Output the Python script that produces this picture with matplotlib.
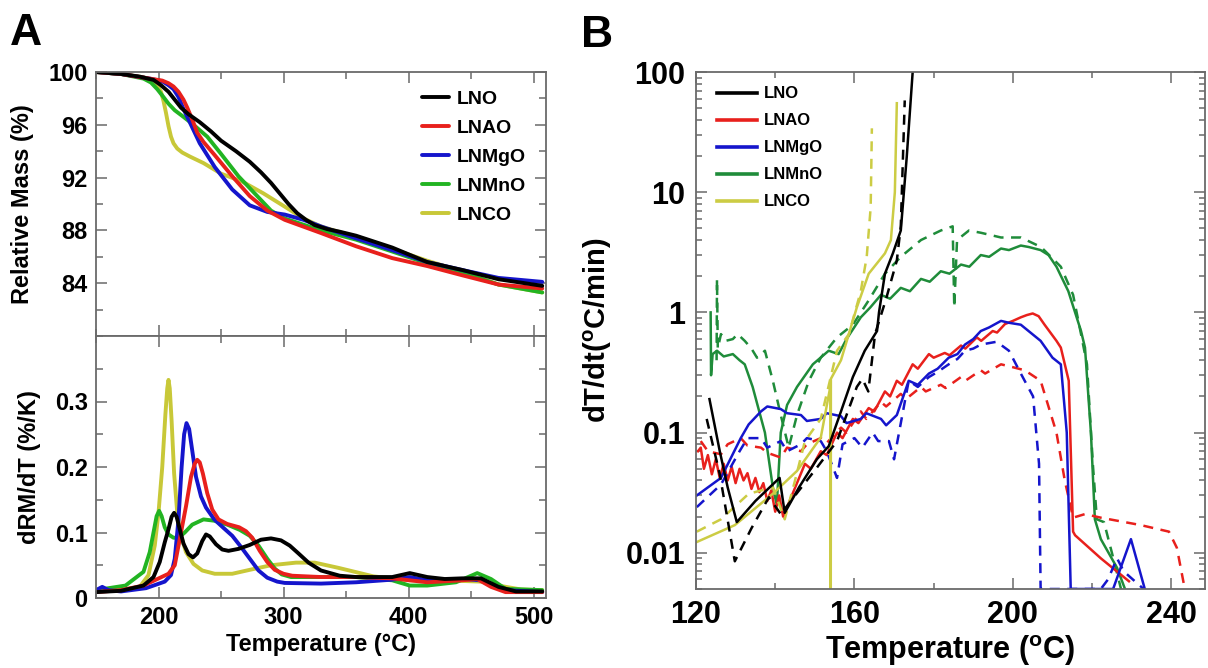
import numpy as np
import matplotlib.pyplot as plt
from matplotlib.ticker import MultipleLocator, LogLocator, NullFormatter, FixedLocator

plt.rcParams['font.family'] = ['Liberation Sans', 'DejaVu Sans']
plt.rcParams['font.weight'] = 'bold'
plt.rcParams['axes.labelweight'] = 'bold'
plt.rcParams['mathtext.fontset'] = 'custom'
plt.rcParams['mathtext.bf'] = 'Liberation Sans:bold'
plt.rcParams['mathtext.rm'] = 'Liberation Sans:bold'

names = ['LNO', 'LNAO', 'LNMgO', 'LNMnO', 'LNCO']
colors_a = ['#000000', '#e8201c', '#1515cc', '#22b422', '#c8c838']
colors_b = ['#000000', '#e8201c', '#1515cc', '#1f8c3a', '#cccc44']

# ---- TGA: relative mass (%) vs temperature ----
tga_lno_T = [150, 170, 185, 196, 202, 208, 213, 218, 224, 233, 242, 250, 262, 273, 282, 290, 297, 304, 311, 318, 325, 335, 345, 358, 387, 415, 443, 472, 507]
tga_lno_m = [100.0, 99.85, 99.65, 99.4, 99.0, 98.5, 97.9, 97.3, 96.8, 96.2, 95.5, 94.8, 94.0, 93.2, 92.4, 91.6, 90.8, 90.0, 89.3, 88.8, 88.4, 88.1, 87.9, 87.6, 86.7, 85.6, 85.0, 84.3, 83.8]
tga_lnao_T = [150, 170, 193, 203, 208, 212, 216, 220, 223, 227, 231, 236, 245, 259, 273, 287, 301, 330, 358, 387, 415, 443, 472, 507]
tga_lnao_m = [100.0, 99.85, 99.5, 99.35, 99.15, 98.9, 98.5, 97.9, 97.3, 96.4, 95.4, 94.7, 93.7, 92.1, 90.6, 89.5, 88.8, 87.8, 86.8, 85.9, 85.3, 84.6, 83.9, 83.6]
tga_lnmgo_T = [150, 170, 193, 203, 208, 212, 216, 220, 225, 233, 245, 259, 273, 287, 301, 316, 330, 358, 387, 415, 443, 472, 507]
tga_lnmgo_m = [100.0, 99.85, 99.5, 99.3, 99.0, 98.7, 98.1, 97.2, 96.2, 94.6, 92.8, 91.1, 89.9, 89.4, 89.2, 88.8, 88.3, 87.4, 86.5, 85.6, 85.0, 84.4, 84.1]
tga_lnmno_T = [150, 170, 188, 194, 199, 204, 208, 213, 220, 228, 239, 250, 264, 279, 290, 301, 330, 358, 387, 415, 443, 472, 507]
tga_lnmno_m = [100.0, 99.85, 99.5, 99.2, 98.7, 98.1, 97.6, 97.1, 96.6, 96.0, 95.1, 93.8, 92.1, 90.6, 89.5, 88.9, 88.0, 87.3, 86.4, 85.5, 84.8, 83.9, 83.3]
tga_lnco_T = [150, 170, 188, 195, 199, 202, 204, 206, 208, 210, 212, 215, 219, 225, 236, 250, 267, 284, 301, 316, 330, 358, 387, 415, 443, 472, 507]
tga_lnco_m = [100.0, 99.85, 99.6, 99.35, 99.0, 98.5, 97.8, 96.9, 95.9, 95.1, 94.6, 94.2, 93.9, 93.6, 93.1, 92.3, 91.7, 90.8, 89.8, 88.9, 88.3, 87.5, 86.6, 85.7, 84.9, 83.9, 83.3]

# ---- DTG: dRM/dT (%/K) vs temperature ----
dtg_lno_T = [150, 170, 188, 196, 201, 205, 208, 210.5, 212.5, 214.5, 217, 220, 224, 227.6, 231, 235, 238, 241, 246, 251, 256, 264, 273, 282, 290,
             298, 305, 312, 320, 330, 345, 358, 387, 401, 415, 429, 443, 458, 472, 486, 507]
dtg_lno_v = [0.009, 0.011, 0.019, 0.032, 0.055, 0.085, 0.105, 0.124, 0.13, 0.124, 0.105, 0.083, 0.067, 0.062, 0.068, 0.087, 0.097, 0.094, 0.082, 0.074, 0.072, 0.075, 0.081, 0.089, 0.091,
             0.088, 0.08, 0.068, 0.054, 0.042, 0.034, 0.032, 0.032, 0.038, 0.032, 0.029, 0.03, 0.03, 0.017, 0.01, 0.01]
dtg_lnao_T = [150, 170, 188, 208, 213, 217, 222, 226, 229, 231, 233, 235.5, 239, 243, 248, 255, 264.5, 270, 275, 281, 287, 293, 300, 307,
              330, 358, 387, 415, 443, 455, 466, 477.6, 507]
dtg_lnao_v = [0.009, 0.012, 0.019, 0.037, 0.05, 0.09, 0.14, 0.185, 0.205, 0.211, 0.207, 0.19, 0.16, 0.135, 0.12, 0.113, 0.108, 0.102, 0.092, 0.072, 0.055, 0.043, 0.037, 0.034,
              0.032, 0.032, 0.03, 0.024, 0.027, 0.029, 0.017, 0.009, 0.009]
dtg_lnmgo_T = [150, 155, 160, 170, 190, 205, 210, 213, 216, 218.5, 220.5, 222.4, 224.5, 227, 230, 234, 238, 244.6, 252, 259, 266, 273, 280, 287,
               295, 301, 330, 358, 387, 401, 415, 443, 458, 477, 507]
dtg_lnmgo_v = [0.012, 0.017, 0.012, 0.01, 0.015, 0.025, 0.035, 0.06, 0.12, 0.2, 0.25, 0.267, 0.258, 0.225, 0.185, 0.155, 0.138, 0.12, 0.107, 0.095, 0.078, 0.06, 0.042, 0.031,
               0.025, 0.023, 0.022, 0.024, 0.028, 0.032, 0.027, 0.029, 0.027, 0.012, 0.009]
dtg_lnmno_T = [150, 173.6, 188, 193, 196, 198.5, 200.5, 202.5, 205, 208, 212, 216, 221, 227, 236, 244.6, 255, 265, 273, 280, 287, 293, 298.6, 306,
               358, 387, 401, 415, 438, 455, 466, 477.6, 507]
dtg_lnmno_v = [0.012, 0.019, 0.04, 0.07, 0.1, 0.125, 0.133, 0.125, 0.108, 0.097, 0.092, 0.092, 0.1, 0.112, 0.12, 0.118, 0.112, 0.104, 0.095, 0.08, 0.06, 0.045, 0.036, 0.032,
               0.032, 0.027, 0.019, 0.019, 0.024, 0.038, 0.029, 0.014, 0.012]
dtg_lnco_T = [150, 170, 185, 192, 197, 200, 203, 205.5, 207, 208, 209, 210.5, 212.5, 215, 218, 222, 228, 235, 245, 259, 273, 290, 310, 325,
              344, 372, 401, 429, 458, 475, 490, 507]
dtg_lnco_v = [0.01, 0.012, 0.017, 0.035, 0.08, 0.13, 0.2, 0.28, 0.32, 0.333, 0.32, 0.27, 0.19, 0.13, 0.095, 0.07, 0.052, 0.042, 0.037, 0.037, 0.043, 0.05, 0.054, 0.054,
              0.046, 0.033, 0.027, 0.027, 0.025, 0.018, 0.013, 0.012]

# ---- heating-rate curves, solid and dashed runs ----
b_lno_T = [123.4, 126, 128, 130.3, 135, 141.1, 142.4, 146, 150.5, 153.5, 156.6, 159.6, 162.6, 165.7, 166.2, 167.7, 169.7, 171.7, 173.2, 174.7, 175.2]
b_lno_v = [0.19, 0.07, 0.035, 0.018, 0.027, 0.042, 0.0215, 0.035, 0.06, 0.077, 0.15, 0.29, 0.48, 0.7, 1.0, 2.1, 3.1, 4.8, 19.6, 100, 150]
b_lno_d_T = [122.7, 126, 129.8, 134, 138.4, 141.4, 146, 150.5, 155.6, 160.6, 162, 163.5, 165.2, 168, 170.7, 171.7, 172.7]
b_lno_d_v = [0.13, 0.045, 0.0085, 0.016, 0.029, 0.021, 0.033, 0.051, 0.085, 0.24, 0.28, 0.22, 0.66, 1.3, 2.7, 5.2, 58]

b_lnao_T = [120.5, 121.2, 122, 123, 124, 125, 126, 127, 128, 129, 130, 131, 132, 133, 134, 135, 136, 137, 138, 139, 140, 141, 142,
            147.5, 149, 151.5, 153, 155.6, 157, 159.6, 161, 163.6, 165, 167.7, 169, 170.7, 172, 174.7, 176, 178.8, 180, 182.8, 184,
            186.9, 188, 190.9, 192, 194.9, 196, 198, 200, 202, 203.5, 205, 206.5, 208, 211, 212.1, 214.1, 215.2, 215.7, 222.2, 229.3]
b_lnao_v = [0.07, 0.075, 0.05, 0.065, 0.045, 0.06, 0.042, 0.055, 0.04, 0.052, 0.038, 0.05, 0.04, 0.046, 0.034, 0.042, 0.032, 0.038, 0.027, 0.033, 0.022, 0.03, 0.02,
            0.055, 0.05, 0.07, 0.065, 0.1, 0.09, 0.13, 0.12, 0.16, 0.15, 0.22, 0.2, 0.27, 0.25, 0.37, 0.34, 0.45, 0.42, 0.46, 0.44,
            0.53, 0.5, 0.62, 0.58, 0.7, 0.68, 0.8, 0.85, 0.91, 0.95, 0.98, 0.93, 0.79, 0.58, 0.51, 0.27, 0.015, 0.014, 0.009, 0.0058]
b_lnao_d_T = [121.2, 123, 126.3, 128, 131.3, 133, 136.4, 138, 141.4, 143, 146.5, 148, 151.5, 153, 156.6, 158, 161.6, 163, 166.7, 168,
              171.7, 173, 176.8, 178, 181.8, 183, 186.9, 188, 191.9, 193, 197, 200, 203, 207, 211, 213.1, 215.2, 218.2, 222.2, 232.3, 239.4, 241.4, 243.4]
b_lnao_d_v = [0.085, 0.07, 0.066, 0.08, 0.09, 0.078, 0.075, 0.068, 0.062, 0.075, 0.07, 0.08, 0.09, 0.082, 0.11, 0.1, 0.15, 0.13, 0.18, 0.165,
              0.21, 0.19, 0.24, 0.22, 0.25, 0.235, 0.29, 0.27, 0.33, 0.31, 0.37, 0.35, 0.33, 0.27, 0.10, 0.04, 0.0196, 0.021, 0.0196, 0.017, 0.015, 0.011, 0.005]

b_lnmgo_T = [120.2, 126.3, 131.3, 133.3, 136.4, 138, 141.4, 143, 146.5, 148, 151.5, 153, 156.6, 158, 161.6, 163, 166.7, 168, 170.7,
             173.7, 176, 178.8, 181, 183.8, 186, 187.9, 190, 191.9, 194, 197, 199, 202, 207, 210, 212.1, 213.6, 214.6, 225.3, 229.8, 233.3]
b_lnmgo_v = [0.030, 0.042, 0.09, 0.117, 0.15, 0.165, 0.157, 0.145, 0.14, 0.125, 0.13, 0.145, 0.137, 0.12, 0.13, 0.145, 0.13, 0.115, 0.14,
             0.27, 0.25, 0.31, 0.34, 0.42, 0.45, 0.54, 0.6, 0.7, 0.75, 0.85, 0.82, 0.79, 0.58, 0.42, 0.37, 0.1, 0.005, 0.005, 0.013, 0.005]
b_lnmgo_d_T = [120.2, 126.3, 131, 133, 136.4, 138, 141.4, 143, 146.5, 148, 151.5, 153, 155.6, 157, 160, 162, 164.6, 166, 168.7, 170,
               173.7, 176, 178.8, 181, 183.8, 186, 187.9, 190, 191.9, 195.9, 199, 202, 205.1, 206.6, 207, 222.2, 224, 226.3, 228, 233]
b_lnmgo_d_v = [0.024, 0.037, 0.07, 0.09, 0.09, 0.075, 0.085, 0.07, 0.08, 0.09, 0.085, 0.07, 0.042, 0.08, 0.09, 0.075, 0.1, 0.085, 0.085, 0.06,
               0.27, 0.24, 0.29, 0.32, 0.37, 0.41, 0.48, 0.5, 0.54, 0.57, 0.48, 0.31, 0.2, 0.055, 0.005, 0.005, 0.006, 0.009, 0.007, 0.005]

b_lnmno_T = [123.7, 123.8, 124.2, 125.3, 127, 129.3, 131, 132.3, 134.3, 137.4, 139.4, 140.4, 141.4, 143, 145.5, 149.5, 153.5, 156,
             158, 161.6, 164, 166.7, 169, 171.7, 174, 176.8, 179, 181.8, 184, 186.9, 189, 191.9, 194, 197, 199, 202, 204, 207, 209,
             211, 214, 217.2, 218.2, 219.7, 220.7, 222.2, 226.3, 228.3, 229]
b_lnmno_v = [1.0, 0.3, 0.45, 0.48, 0.43, 0.45, 0.4, 0.37, 0.24, 0.10, 0.035, 0.025, 0.1, 0.17, 0.24, 0.37, 0.48, 0.45,
             0.6, 0.91, 1.1, 1.4, 1.3, 1.6, 1.5, 1.9, 1.8, 2.2, 2.1, 2.5, 2.4, 3.0, 2.9, 3.4, 3.3, 3.6, 3.5, 3.3, 3.0,
             2.4, 1.5, 0.7, 0.51, 0.10, 0.019, 0.013, 0.0075, 0.005, 0.004]
b_lnmno_d_T = [125.2, 125.3, 125.5, 126.3, 127.5, 129.3, 130.5, 132.3, 134, 135.4, 137.4, 139.4, 141.4, 143.4, 145.5, 148.5, 151.5, 155.6,
               159.6, 163.6, 167.7, 171.7, 176.8, 181.8, 184.8, 185.2, 185.9, 188.9, 191.9, 197, 202, 207.1, 212.1, 215.2, 217.2,
               218.7, 220.2, 221.2, 223, 225, 227.3, 228]
b_lnmno_d_v = [0.4, 1.9, 0.5, 0.66, 0.58, 0.6, 0.66, 0.58, 0.5, 0.42, 0.48, 0.27, 0.14, 0.075, 0.14, 0.27, 0.42, 0.62,
               0.79, 1.26, 2.1, 2.9, 4.0, 4.8, 5.2, 1.1, 4.0, 4.8, 4.6, 4.2, 4.2, 3.5, 2.4, 1.4, 0.66,
               0.37, 0.054, 0.019, 0.018, 0.01, 0.005, 0.004]

b_lnco_T = [120.2, 129.8, 139.4, 145.5, 151.5, 154, 154, 154.05, 156.6, 160.6, 163.6, 167.7, 169.2, 170.2, 170.7]
b_lnco_v = [0.0123, 0.017, 0.031, 0.048, 0.091, 0.25, 0.0001, 0.28, 0.4, 1.1, 2.1, 3.1, 4.0, 10, 55]
b_lnco_d_T = [120.2, 126.3, 133.3, 139.4, 142.4, 145, 147.5, 151.5, 155.6, 158.6, 161.6, 163.1, 164.1, 164.4]
b_lnco_d_v = [0.015, 0.019, 0.031, 0.035, 0.019, 0.04, 0.085, 0.13, 0.48, 0.66, 1.5, 2.9, 7.5, 34]

W, H = 1208, 668
spine_col = '#6a6a6a'

fig = plt.figure(figsize=(W / 100, H / 100), dpi=100)
ax1 = fig.add_axes([96 / W, 1 - 336 / H, 450 / W, 264 / H])
ax2 = fig.add_axes([96 / W, 1 - 598 / H, 450 / W, 262 / H])
axb = fig.add_axes([696 / W, 1 - 589 / H, 509 / W, 517 / H])


def style_axes(ax, size):
    for s in ax.spines.values():
        s.set_color(spine_col)
        s.set_linewidth(1.3)
    ax.tick_params(which='both', direction='in', top=True, right=True,
                   color=spine_col, labelsize=size, width=1.1)
    ax.tick_params(which='major', length=8)
    ax.tick_params(which='minor', length=5)


# panel A, mass loss
tga = [(tga_lno_T, tga_lno_m), (tga_lnao_T, tga_lnao_m), (tga_lnmgo_T, tga_lnmgo_m),
       (tga_lnmno_T, tga_lnmno_m), (tga_lnco_T, tga_lnco_m)]
draw_order = [4, 3, 2, 1, 0]
for i in draw_order:
    ax1.plot(tga[i][0], tga[i][1], color=colors_a[i], lw=2.8, label=names[i],
             solid_capstyle='round', solid_joinstyle='round')
ax1.set_xlim(150, 510)
ax1.set_ylim(80, 100)
ax1.xaxis.set_major_locator(MultipleLocator(100))
ax1.xaxis.set_minor_locator(MultipleLocator(50))
ax1.yaxis.set_major_locator(FixedLocator([84, 88, 92, 96, 100]))
ax1.yaxis.set_minor_locator(MultipleLocator(2))
style_axes(ax1, 17)
ax1.tick_params(labelbottom=False, pad=6)
ax1.set_ylabel('Relative Mass (%)', fontsize=17, labelpad=10)
h, l = ax1.get_legend_handles_labels()
order = [l.index(n) for n in names]
ax1.legend([h[k] for k in order], names, loc='upper left', bbox_to_anchor=(0.725, 0.93),
           frameon=False, fontsize=14, handlelength=1.35, handletextpad=0.4,
           labelspacing=0.58, borderpad=0, borderaxespad=0)

# panel A, derivative
dtg = [(dtg_lno_T, dtg_lno_v), (dtg_lnao_T, dtg_lnao_v), (dtg_lnmgo_T, dtg_lnmgo_v),
       (dtg_lnmno_T, dtg_lnmno_v), (dtg_lnco_T, dtg_lnco_v)]
for i in draw_order:
    ax2.plot(dtg[i][0], dtg[i][1], color=colors_a[i], lw=2.8,
             solid_capstyle='round', solid_joinstyle='round')
ax2.set_xlim(150, 510)
ax2.set_ylim(0, 0.4)
ax2.xaxis.set_major_locator(MultipleLocator(100))
ax2.xaxis.set_minor_locator(MultipleLocator(50))
ax2.yaxis.set_major_locator(FixedLocator([0, 0.1, 0.2, 0.3]))
ax2.yaxis.set_minor_locator(MultipleLocator(0.05))
ax2.yaxis.set_major_formatter(plt.FuncFormatter(lambda v, p: '0' if v == 0 else f'{v:.1f}'))
style_axes(ax2, 17)
ax2.tick_params(pad=6)
ax2.set_ylabel('dRM/dT (%/K)', fontsize=17, labelpad=10)
ax2.set_xlabel('Temperature (°C)', fontsize=17, labelpad=3)

# panel B, heating rate on a log scale
runs = [((b_lno_T, b_lno_v), (b_lno_d_T, b_lno_d_v)),
        ((b_lnao_T, b_lnao_v), (b_lnao_d_T, b_lnao_d_v)),
        ((b_lnmgo_T, b_lnmgo_v), (b_lnmgo_d_T, b_lnmgo_d_v)),
        ((b_lnmno_T, b_lnmno_v), (b_lnmno_d_T, b_lnmno_d_v)),
        ((b_lnco_T, b_lnco_v), (b_lnco_d_T, b_lnco_d_v))]
for i in [3, 1, 2, 4, 0]:
    solid, dashed = runs[i]
    axb.plot(dashed[0], dashed[1], color=colors_b[i], lw=1.8, ls=(0, (4, 3)))
    axb.plot(solid[0], solid[1], color=colors_b[i], lw=1.8, label=names[i])
axb.set_yscale('log')
axb.set_xlim(120, 248.5)
axb.set_ylim(0.005, 100)
axb.xaxis.set_major_locator(MultipleLocator(40))
axb.xaxis.set_minor_locator(MultipleLocator(20))
axb.yaxis.set_major_locator(FixedLocator([0.01, 0.1, 1, 10, 100]))
axb.yaxis.set_minor_locator(LogLocator(base=10, subs=np.arange(2, 10)))
axb.yaxis.set_minor_formatter(NullFormatter())
axb.yaxis.set_major_formatter(plt.FuncFormatter(lambda v, p: f'{v:g}'))
style_axes(axb, 22)
axb.tick_params(which='minor', length=4)
axb.tick_params(pad=8)
axb.set_ylabel(r'dT/dt($^{\mathbf{o}}$C/min)', fontsize=21, labelpad=8)
axb.set_xlabel(r'Temperature ($^{\mathbf{o}}$C)', fontsize=22, labelpad=2)
h, l = axb.get_legend_handles_labels()
order = [l.index(n) for n in names]
axb.legend([h[k] for k in order], names, loc='upper left', bbox_to_anchor=(0.042, 0.972),
           frameon=False, fontsize=12, handlelength=2.4, handletextpad=0.4,
           labelspacing=0.72, borderpad=0, borderaxespad=0)
for line in axb.get_legend().get_lines():
    line.set_linewidth(2.6)

fig.text(10 / W, 1 - 45 / H, 'A', fontsize=32, weight='bold', va='baseline')
fig.text(581 / W, 1 - 47 / H, 'B', fontsize=32, weight='bold', va='baseline')

fig.savefig('out.png', dpi=100)
